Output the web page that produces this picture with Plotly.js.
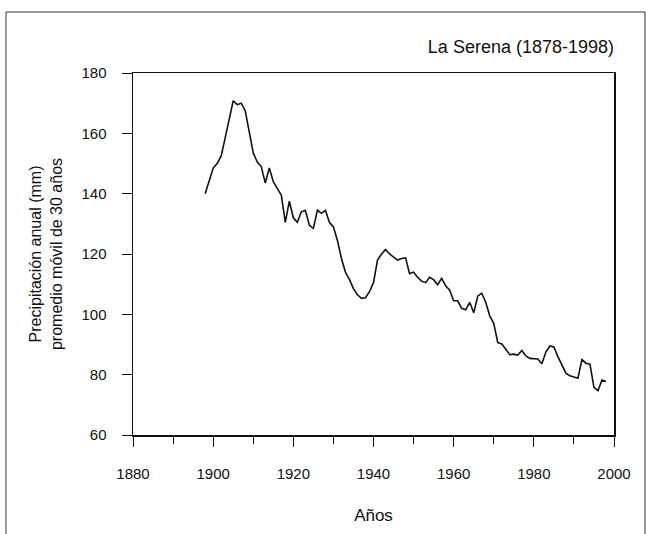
<!DOCTYPE html>
<html>
<head>
<meta charset="utf-8">
<script src="https://cdn.plot.ly/plotly-3.0.1.min.js"></script>
<style>html,body{margin:0;padding:0;background:#fff;}#chart{width:646px;height:534px;}</style>
</head>
<body>
<div id="chart"></div>
<script>
const years = [1898,1899,1900,1901,1902,1903,1904,1905,1906,1907,1908,1909,1910,1911,1912,1913,1914,1915,1916,1917,1918,1919,1920,1921,1922,1923,1924,1925,1926,1927,1928,1929,1930,1931,1932,1933,1934,1935,1936,1937,1938,1939,1940,1941,1942,1943,1944,1945,1946,1947,1948,1949,1950,1951,1952,1953,1954,1955,1956,1957,1958,1959,1960,1961,1962,1963,1964,1965,1966,1967,1968,1969,1970,1971,1972,1973,1974,1975,1976,1977,1978,1979,1980,1981,1982,1983,1984,1985,1986,1987,1988,1989,1990,1991,1992,1993,1994,1995,1996,1997,1998];
const precip = [140,144.5,148.5,150,152.5,158.5,165,170.8,169.5,170,167.5,160,153.5,150.5,149,143.5,148.5,144,141.5,139.5,130.5,137.5,132,130.5,134,134.5,129.5,128.5,134.5,133.5,134.5,130.5,129,124.5,118.5,114,111.5,108.5,106.5,105.3,105.5,107.5,110.5,118,120,121.5,120,119,118,118.5,118.7,113.5,114,112.3,111,110.5,112.3,111.5,109.8,111.9,109.5,108,104.5,104.5,102,101.5,104,100.5,106,107,104,99.5,97,90.6,90.2,88.4,86.6,86.8,86.5,88,86.2,85.4,85.4,85.2,83.6,87.5,89.5,89.2,86,83,80.5,79.6,79.3,78.8,85,83.8,83.5,75.8,74.7,78.2,77.7];
const xTicks = [1880,1900,1920,1940,1960,1980,2000];
const yTicks = [60,80,100,120,140,160,180];
const chartTitle = 'La Serena (1878-1998)';
const xTitle = 'Años';
const yTitle = 'Precipitación anual (mm)<br>promedio móvil de 30 años';

const font = 'Liberation Sans, Arial, Helvetica, sans-serif';
const trace = {x: years, y: precip, type: 'scatter', mode: 'lines',
  line: {color: '#111', width: 1.6}, hoverinfo: 'x+y'};

const layout = {
  width: 646, height: 534,
  margin: {l: 133, r: 32, t: 73, b: 99},
  paper_bgcolor: '#fff', plot_bgcolor: '#fff',
  font: {family: font, color: '#111', size: 15},
  showlegend: false,
  title: {text: chartTitle, font: {size: 18, family: font, color: '#111'},
    x: 614/646, xanchor: 'right', xref: 'container', y: 1 - 47/534, yanchor: 'middle', yref: 'container'},
  xaxis: {range: [1880, 2000], tickvals: xTicks, ticks: 'outside', ticklen: 10, tickwidth: 1,
    tickcolor: '#111', showline: true, linecolor: '#111', linewidth: 1.5, mirror: true,
    showgrid: false, zeroline: false, ticklabelstandoff: 14,
    minor: {dtick: 10, tick0: 1880, ticks: 'outside', ticklen: 7, tickcolor: '#111', showgrid: false},
    title: {text: xTitle, font: {size: 17}, standoff: 28}},
  yaxis: {range: [60, 180], tickvals: yTicks, ticks: 'outside', ticklen: 10, tickwidth: 1,
    tickcolor: '#111', showline: true, linecolor: '#111', linewidth: 1.5, mirror: true,
    showgrid: false, zeroline: false, ticklabelstandoff: 12,
    title: {text: yTitle, font: {size: 16}, standoff: 15}},
  shapes: [{type: 'rect', xref: 'paper', yref: 'paper',
    x0: (6-133)/481, x1: (645-133)/481, y0: (435-560)/362, y1: (435-12)/362,
    line: {color: '#333', width: 1}, fillcolor: 'rgba(0,0,0,0)', layer: 'above'}]
};
Plotly.newPlot('chart', [trace], layout, {displayModeBar: false, staticPlot: true});
</script>
</body>
</html>
